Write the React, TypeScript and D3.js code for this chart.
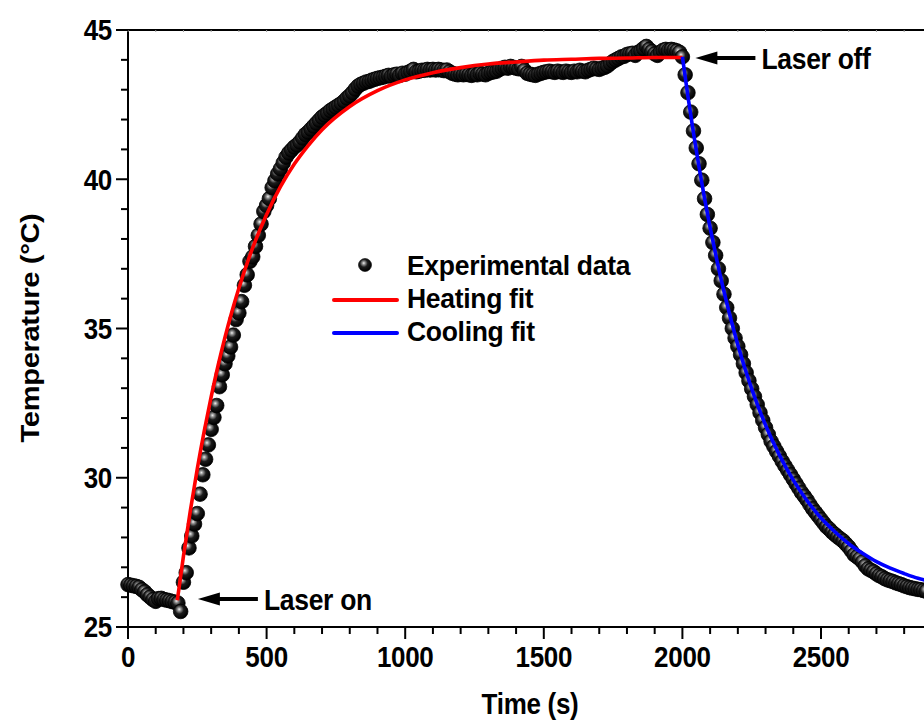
import React from "react";
import * as d3 from "d3";

// Experimental data: time starts at 0 s, one reading every 10 s
const T_START = 0;
const T_STEP = 10;
const expTemp = [
  26.42, 26.40, 26.38, 26.36, 26.33, 26.25, 26.18, 26.08, 26.00, 25.92,
  25.86, 25.95, 25.96, 25.92, 25.90, 25.88, 25.85, 25.83, 25.80, 25.52,
  26.50, 26.82, 27.65, 28.05, 28.45, 28.80, 29.45, 30.10, 30.62, 31.10,
  31.62, 32.02, 32.42, 33.05, 33.45, 33.82, 34.08, 34.38, 34.78, 35.30,
  35.52, 35.90, 36.45, 36.80, 37.25, 37.40, 37.75, 38.12, 38.50, 38.92,
  39.12, 39.35, 39.72, 39.95, 40.18, 40.35, 40.55, 40.74, 40.88, 40.98,
  41.08, 41.15, 41.25, 41.38, 41.50, 41.58, 41.68, 41.78, 41.88, 41.98,
  42.08, 42.15, 42.22, 42.30, 42.36, 42.42, 42.48, 42.54, 42.62, 42.72,
  42.80, 42.90, 43.02, 43.12, 43.18, 43.22, 43.26, 43.28, 43.32, 43.35,
  43.38, 43.40, 43.42, 43.45, 43.48, 43.45, 43.50, 43.52, 43.48, 43.55,
  43.52, 43.58, 43.62, 43.68, 43.60, 43.62, 43.65, 43.65, 43.68, 43.66,
  43.68, 43.66, 43.68, 43.66, 43.64, 43.66, 43.60, 43.55, 43.52, 43.50,
  43.52, 43.50, 43.52, 43.50, 43.48, 43.52, 43.50, 43.55, 43.52, 43.50,
  43.55, 43.58, 43.60, 43.62, 43.68, 43.72, 43.75, 43.72, 43.78, 43.75,
  43.72, 43.70, 43.78, 43.65, 43.55, 43.52, 43.50, 43.48, 43.52, 43.55,
  43.58, 43.60, 43.62, 43.60, 43.58, 43.62, 43.60, 43.58, 43.62, 43.60,
  43.58, 43.62, 43.60, 43.65, 43.62, 43.60, 43.65, 43.68, 43.72, 43.70,
  43.68, 43.72, 43.75, 43.80, 43.88, 43.95, 44.00, 44.05, 44.10, 44.12,
  44.18, 44.20, 44.22, 44.15, 44.25, 44.30, 44.38, 44.45, 44.35, 44.28,
  44.20, 44.15, 44.25, 44.32, 44.35, 44.32, 44.35, 44.33, 44.30, 44.25,
  44.10, 43.50, 42.90, 42.25, 41.62, 41.05, 40.52, 39.97, 39.35, 38.82,
  38.36, 37.88, 37.45, 37.00, 36.60, 36.15, 35.70, 35.35, 35.00, 34.68,
  34.40, 34.12, 33.82, 33.52, 33.25, 32.98, 32.72, 32.45, 32.18, 31.92,
  31.68, 31.45, 31.22, 31.05, 30.88, 30.72, 30.55, 30.40, 30.25, 30.10,
  29.95, 29.80, 29.65, 29.50, 29.38, 29.25, 29.10, 28.96, 28.84, 28.72,
  28.60, 28.48, 28.36, 28.28, 28.18, 28.10, 28.02, 27.95, 27.88, 27.78,
  27.68, 27.55, 27.42, 27.35, 27.28, 27.18, 27.05, 26.95, 26.90, 26.85,
  26.78, 26.72, 26.68, 26.62, 26.58, 26.55, 26.52, 26.48, 26.45, 26.42,
  26.38, 26.35, 26.32, 26.30, 26.28, 26.26, 26.25, 26.22, 26.20,
];

const heatFitTime = [178, 200, 225, 250, 275, 300, 325, 350, 375, 400, 450, 500, 550, 600, 650, 700, 800, 900, 1000, 1100, 1200, 1300, 1400, 1500, 1600, 1700, 1800, 1900, 2000];
const heatFitTemp = [25.90, 27.37, 28.90, 30.30, 31.56, 32.71, 33.76, 34.71, 35.57, 36.35, 37.71, 38.82, 39.75, 40.51, 41.13, 41.66, 42.44, 42.97, 43.33, 43.57, 43.74, 43.86, 43.93, 43.99, 44.02, 44.05, 44.06, 44.08, 44.08];

const coolFitTime = [2000, 2020, 2040, 2060, 2080, 2100, 2125, 2150, 2175, 2200, 2250, 2300, 2350, 2400, 2450, 2500, 2550, 2600, 2650, 2700, 2750, 2800, 2850, 2900];
const coolFitTemp = [44.10, 42.77, 41.55, 40.41, 39.35, 38.38, 37.26, 36.24, 35.31, 34.45, 32.98, 31.76, 30.76, 29.92, 29.23, 28.65, 28.19, 27.79, 27.47, 27.19, 26.97, 26.79, 26.63, 26.52];

const xTickLabels = [0, 500, 1000, 1500, 2000, 2500];
const yTickLabels = [25, 30, 35, 40, 45];
const legendLabels = ["Experimental data", "Heating fit", "Cooling fit"];
const annotations = [
  { label: "Laser on", t: 180, temp: 25.9 },
  { label: "Laser off", t: 2000, temp: 44.1 },
];

const FONT = "'Liberation Sans', Arial, Helvetica, sans-serif";
const SY = 1.12;

function Txt(props: any) {
  const { x, y, anchor = "start", size = 26, children, rotate = 0, sx = 1, sy = SY } = props;
  const tr = `translate(${x},${y})${rotate ? ` rotate(${rotate})` : ""} scale(${sx},${sy})`;
  return (
    <text
      transform={tr}
      textAnchor={anchor}
      dy="0.36em"
      fontFamily={FONT}
      fontWeight="bold"
      fontSize={size}
      letterSpacing={-0.3}
      fill="#000"
    >
      {children}
    </text>
  );
}

export default function App() {
  const W = 924;
  const H = 723;
  const left = 128;
  const x = d3.scaleLinear().domain([0, 3000]).range([left, left + 3000 * 0.2772]);
  const y = d3.scaleLinear().domain([25, 45]).range([627, 30]);

  const expData = expTemp.map((v, i) => ({ t: T_START + i * T_STEP, v }));
  const heat = heatFitTime.map((t, i) => ({ t, v: heatFitTemp[i] }));
  const cool = coolFitTime.map((t, i) => ({ t, v: coolFitTemp[i] }));
  const line = d3
    .line<{ t: number; v: number }>()
    .x((d) => x(d.t))
    .y((d) => y(d.v))
    .curve(d3.curveMonotoneX);

  const xMinor = d3.range(0, 3001, 100);
  const yMinor = d3.range(25, 45.01, 1);

  const arrowLen = 60;
  return (
    <svg
      width={W}
      height={H}
      style={{ position: "absolute", left: 0, top: 0, background: "#fff" }}
    >
      <defs>
        <radialGradient id="sph" cx="42%" cy="38%" r="60%" fx="40%" fy="35%">
          <stop offset="0%" stopColor="#f0f0f0" />
          <stop offset="20%" stopColor="#909090" />
          <stop offset="50%" stopColor="#1c1c1c" />
          <stop offset="100%" stopColor="#000" />
        </radialGradient>
      </defs>
      <rect x={0} y={0} width={W} height={H} fill="#fff" />

      {/* axes */}
      <line x1={left} x2={W} y1={y(45)} y2={y(45)} stroke="#000" strokeWidth={2} />
      <line x1={left} x2={W} y1={y(25)} y2={y(25)} stroke="#000" strokeWidth={2} />
      <line x1={left} x2={left} y1={y(45) - 1} y2={y(25) + 1} stroke="#000" strokeWidth={2} />
      {xMinor.map((t) => {
        const major = t % 500 === 0;
        return (
          <g key={"xt" + t}>
            <line x1={x(t)} x2={x(t)} y1={y(25)} y2={y(25) + (major ? 12 : 7)} stroke="#000" strokeWidth={2} />
            <line x1={x(t)} x2={x(t)} y1={y(45)} y2={y(45) + 2} stroke="#999" strokeWidth={1} />
          </g>
        );
      })}
      {yMinor.map((v) => {
        const major = Math.abs(v % 5) < 1e-6;
        return (
          <line key={"yt" + v} x1={left - (major ? 12 : 7)} x2={left} y1={y(v)} y2={y(v)} stroke="#000" strokeWidth={2} />
        );
      })}
      {xTickLabels.map((t) => (
        <Txt key={"xl" + t} x={x(t)} y={657} anchor="middle" size={26}>
          {t}
        </Txt>
      ))}
      {yTickLabels.map((v) => (
        <Txt key={"yl" + v} x={112} y={y(v)} anchor="end" size={26}>
          {v}
        </Txt>
      ))}
      <Txt x={530} y={704} anchor="middle" size={26}>
        Time (s)
      </Txt>
      <Txt x={30} y={328} anchor="middle" size={26} rotate={-90} sx={SY} sy={1}>
        Temperature (°C)
      </Txt>

      {/* data */}
      {expData.map((d, i) => (
        <circle key={"p" + i} cx={x(d.t)} cy={y(d.v)} r={7.3} fill="url(#sph)" stroke="#000" strokeWidth={0.8} />
      ))}
      <path d={line(heat) || ""} fill="none" stroke="#ff0000" strokeWidth={3.6} />
      <path d={line(cool) || ""} fill="none" stroke="#0000ff" strokeWidth={3.6} />

      {/* annotations */}
      {annotations.map((a, i) => {
        const ax = x(a.t) + (i === 0 ? 20 : 13);
        const ay = i === 0 ? 599 : 58;
        return (
          <g key={"an" + i}>
            <path d={`M${ax},${ay} L${ax + 22},${ay - 6.5} L${ax + 22},${ay + 6.5} Z`} fill="#000" />
            <line x1={ax + 18} x2={ax + arrowLen} y1={ay} y2={ay} stroke="#000" strokeWidth={4} />
            <Txt x={ax + arrowLen + 6} y={ay} size={26.5}>
              {a.label}
            </Txt>
          </g>
        );
      })}

      {/* legend */}
      <circle cx={365} cy={265} r={6.5} fill="url(#sph)" stroke="#000" strokeWidth={0.6} />
      <line x1={334} x2={397} y1={300} y2={300} stroke="#ff0000" strokeWidth={4} strokeLinecap="round" />
      <line x1={334} x2={397} y1={333} y2={333} stroke="#0000ff" strokeWidth={4} strokeLinecap="round" />
      {legendLabels.map((l, i) => (
        <Txt key={"lg" + i} x={407} y={265 + i * 33} size={26.5} sy={1.07}>
          {l}
        </Txt>
      ))}
    </svg>
  );
}
